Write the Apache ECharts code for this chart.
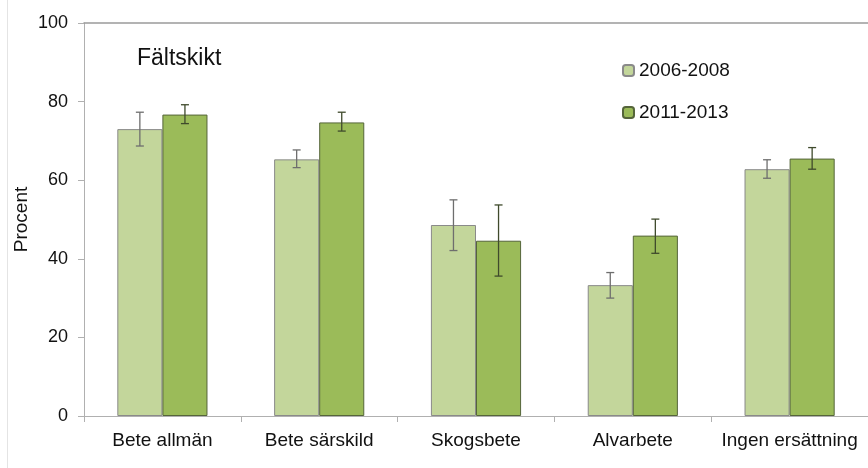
<!DOCTYPE html>
<html><head><meta charset="utf-8">
<script src="https://cdn.jsdelivr.net/npm/echarts@6/dist/echarts.min.js"></script>
<style>html,body{margin:0;padding:0;background:#fff}#c{width:868px;height:468px}</style>
</head><body><div id="c"></div>
<script>
const categories = ['Bete allmän', 'Bete särskild', 'Skogsbete', 'Alvarbete', 'Ingen ersättning'];
const seriesNames = ['2006-2008', '2011-2013'];
const values2006 = [73.0, 65.3, 48.6, 33.3, 62.8];
const low2006 = [68.7, 63.2, 42.1, 30.0, 60.5];
const high2006 = [77.3, 67.7, 55.0, 36.5, 65.2];
const values2011 = [76.7, 74.7, 44.6, 45.9, 65.5];
const low2011 = [74.4, 72.5, 35.6, 41.4, 62.8];
const high2011 = [79.2, 77.3, 53.7, 50.1, 68.3];
const yTicks = [0, 20, 40, 60, 80, 100];

const FONT = 'Liberation Sans, Arial, sans-serif';
const BAR_FRAC = 0.2875;
const chart = echarts.init(document.getElementById('c'));

function errSeries(low, high, side, color) {
  return {
    type: 'custom',
    silent: true,
    z: 10,
    data: categories.map((c, i) => [i, low[i], high[i]]),
    renderItem: function (params, api) {
      const i = api.value(0);
      const band = api.size([1, 0])[0];
      const pLo = api.coord([i, api.value(1)]);
      const pHi = api.coord([i, api.value(2)]);
      const x = pLo[0] + side * band * BAR_FRAC / 2;
      const cap = 4;
      const st = { stroke: color, lineWidth: 1.3 };
      return {
        type: 'group',
        children: [
          { type: 'line', shape: { x1: x, y1: pLo[1], x2: x, y2: pHi[1] }, style: st },
          { type: 'line', shape: { x1: x - cap, y1: pLo[1], x2: x + cap, y2: pLo[1] }, style: st },
          { type: 'line', shape: { x1: x - cap, y1: pHi[1], x2: x + cap, y2: pHi[1] }, style: st }
        ]
      };
    }
  };
}

chart.setOption({
  animation: false,
  backgroundColor: '#fff',
  textStyle: { fontFamily: FONT },
  title: {
    text: 'Fältskikt', left: 132, top: 42,
    textStyle: { fontFamily: FONT, fontSize: 23, fontWeight: 'normal', color: '#111' }
  },
  legend: {
    data: seriesNames, orient: 'vertical', left: 617, top: 56,
    itemWidth: 11, itemHeight: 11, itemGap: 23,
    textStyle: { fontFamily: FONT, fontSize: 19, color: '#111' }
  },
  grid: { left: 84, top: 23, width: 791, bottom: 52 },
  xAxis: [{
    type: 'category', data: categories,
    axisLine: { lineStyle: { color: '#b0b0b0' } },
    axisTick: { show: true, length: 6, lineStyle: { color: '#b0b0b0' } },
    axisLabel: { fontFamily: FONT, fontSize: 19, color: '#111', margin: 15, interval: 0 }
  }, {
    type: 'category', data: categories, position: 'top',
    axisLine: { show: true, lineStyle: { color: '#9a9a9a', width: 1.5 } },
    axisTick: { show: false }, axisLabel: { show: false }
  }],
  yAxis: {
    type: 'value', min: yTicks[0], max: yTicks[yTicks.length - 1], interval: 20,
    name: 'Procent', nameLocation: 'middle', nameGap: 53, nameRotate: 90,
    nameMoveOverlap: false,
    nameTextStyle: { fontFamily: FONT, fontSize: 19, color: '#111' },
    axisLine: { show: true, lineStyle: { color: '#b0b0b0' } },
    axisTick: { show: true, length: 6, lineStyle: { color: '#b0b0b0' } },
    axisLabel: { fontFamily: FONT, fontSize: 18, color: '#111', margin: 16 },
    splitLine: { show: false }
  },
  series: [
    {
      name: seriesNames[0], type: 'bar', data: values2006,
      barWidth: (BAR_FRAC * 100) + '%', barGap: '0%',
      itemStyle: { color: '#c3d69b', borderColor: '#8a8a8a', borderWidth: 1 }
    },
    {
      name: seriesNames[1], type: 'bar', data: values2011,
      barWidth: (BAR_FRAC * 100) + '%', barGap: '0%',
      itemStyle: { color: '#9bbb59', borderColor: '#55653a', borderWidth: 1 }
    },
    errSeries(low2006, high2006, -1, '#6e6e6e'),
    errSeries(low2011, high2011, 1, '#3f4a2c')
  ],
  graphic: [{
    type: 'line', shape: { x1: 7.5, y1: 0, x2: 7.5, y2: 468 },
    style: { stroke: '#e4e4e4', lineWidth: 1 }
  }]
});
</script>
</body></html>
